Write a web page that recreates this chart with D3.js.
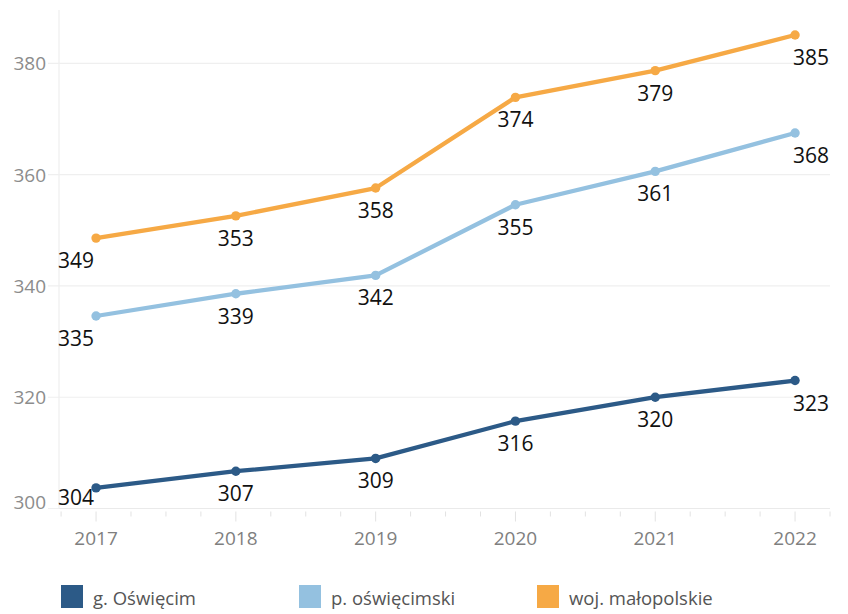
<!DOCTYPE html>
<html>
<head>
<meta charset="utf-8">
<script src="https://cdn.jsdelivr.net/npm/d3@7"></script>
<style>
  html, body { margin: 0; padding: 0; background: #fff; }
  svg { display: block; font-family: "Open Sans", sans-serif; }
</style>
</head>
<body>
<svg id="chart" width="848" height="614"></svg>
<script>
// ---- data ----
const years = [2017, 2018, 2019, 2020, 2021, 2022];
const seriesNames = ["g. Oświęcim", "p. oświęcimski", "woj. małopolskie"];
const gOswiecim = [303.7, 306.7, 309.0, 315.7, 320.0, 323.0];
const pOswiecimski = [334.6, 338.6, 341.9, 354.6, 360.6, 367.5];
const wojMalopolskie = [348.6, 352.6, 357.6, 373.9, 378.7, 385.1];
const seriesColors = ["#2c5a87", "#94c1e0", "#f6a945"];
const yTicks = [300, 320, 340, 360, 380];

const series = [gOswiecim, pOswiecimski, wojMalopolskie].map((vals, i) => ({
  name: seriesNames[i], color: seriesColors[i],
  points: vals.map((v, j) => ({ year: years[j], value: v }))
}));

const svg = d3.select("#chart");
const pLeft = 59, pRight = 830, pTop = 10, pBottom = 508.5;

const x = d3.scaleLinear().domain([2016.735, 2022.25]).range([pLeft, pRight]);
const y = d3.scaleLinear().domain([300, 389.6]).range([pBottom, pTop]);

// gridlines
svg.append("g").selectAll("line").data(yTicks).join("line")
  .attr("x1", 48).attr("x2", pRight)
  .attr("y1", d => y(d)).attr("y2", d => y(d))
  .attr("stroke", "#efefef").attr("stroke-width", 1.2);

// y axis line
svg.append("line").attr("x1", pLeft).attr("x2", pLeft).attr("y1", pTop).attr("y2", pBottom)
  .attr("stroke", "#efefef").attr("stroke-width", 1.2);

// y tick labels
svg.append("g").selectAll("text").data(yTicks).join("text")
  .attr("x", 46).attr("y", d => Math.min(y(d), pBottom - 7))
  .attr("text-anchor", "end").attr("dominant-baseline", "central")
  .attr("font-size", 19).attr("fill", "#8c8c8c")
  .text(d => d);

// x axis
const quarterTicks = d3.range(2016.75, 2022.26, 0.25);
const xAxis = svg.append("g");
xAxis.append("line").attr("x1", pLeft).attr("x2", pRight).attr("y1", pBottom).attr("y2", pBottom)
  .attr("stroke", "#eaeaea").attr("stroke-width", 1.2);
xAxis.selectAll("line.tick").data(quarterTicks).join("line").attr("class", "tick")
  .attr("x1", d => x(d)).attr("x2", d => x(d))
  .attr("y1", pBottom + 3)
  .attr("y2", d => Math.abs(d - Math.round(d)) < 0.01 ? pBottom + 13 : pBottom + 8)
  .attr("stroke", "#e2e2e2").attr("stroke-width", 1);
xAxis.selectAll("text").data(years).join("text")
  .attr("x", d => x(d)).attr("y", 538)
  .attr("text-anchor", "middle").attr("dominant-baseline", "central")
  .attr("font-size", 19).attr("fill", "#7f7f7f")
  .text(d => d);

// lines
const line = d3.line().x(d => x(d.year)).y(d => y(d.value));
const g = svg.append("g");
series.forEach(s => {
  g.append("path").datum(s.points)
    .attr("d", line).attr("fill", "none")
    .attr("stroke", s.color).attr("stroke-width", 4.3)
    .attr("stroke-linejoin", "round").attr("stroke-linecap", "round");
  g.selectAll(null).data(s.points).join("circle")
    .attr("cx", d => x(d.year)).attr("cy", d => y(d.value))
    .attr("r", 4.7).attr("fill", s.color);
});

// labels
series.forEach(s => {
  g.selectAll(null).data(s.points).join("text")
    .attr("x", (d, i) => i === 0 ? x(d.year) - 2 : i === years.length - 1 ? x(d.year) - 2 : x(d.year))
    .attr("y", d => Math.min(y(d.value) + 22, 497))
    .attr("text-anchor", (d, i) => i === 0 ? "end" : i === years.length - 1 ? "start" : "middle")
    .attr("dominant-baseline", "central")
    .attr("font-size", 21).attr("fill", "#111")
    .text(d => Math.round(d.value));
});

// legend
const legendX = [61, 299, 537];
const leg = svg.append("g");
series.forEach((s, i) => {
  leg.append("rect").attr("x", legendX[i]).attr("y", 585)
    .attr("width", 22).attr("height", 23).attr("fill", s.color);
  leg.append("text").attr("x", legendX[i] + 32).attr("y", 597)
    .attr("dominant-baseline", "central")
    .attr("font-size", 18.5).attr("fill", "#555")
    .text(s.name);
});
</script>
</body>
</html>
